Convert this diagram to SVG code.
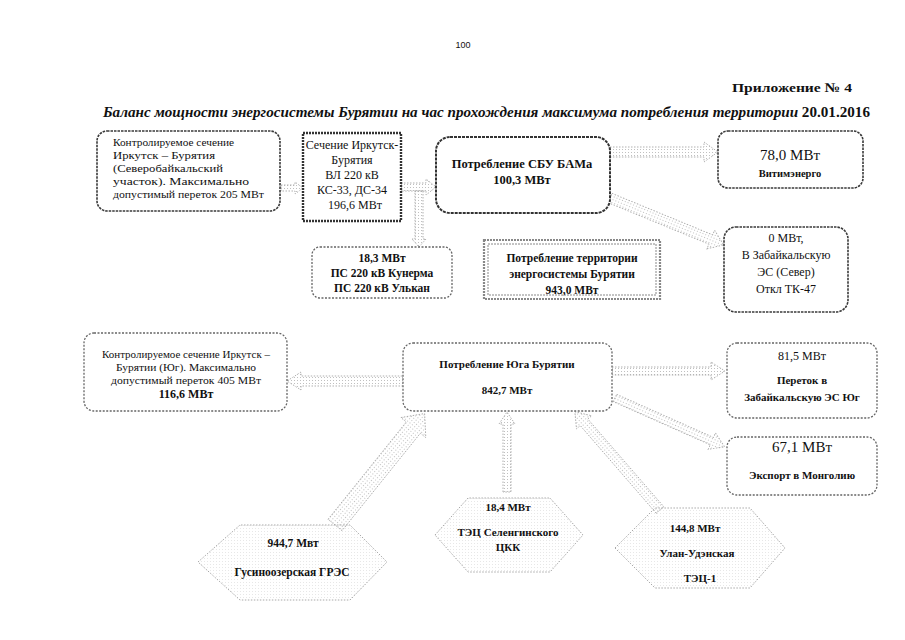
<svg xmlns="http://www.w3.org/2000/svg" width="905" height="640" viewBox="0 0 905 640" font-family="'Liberation Serif','Times New Roman',serif">
<defs>
<pattern id="dots" width="3" height="3" patternUnits="userSpaceOnUse">
<rect x="0" y="0" width="1" height="1" fill="#b0b0b0"/>
</pattern>
<style>
text{font-family:"Liberation Serif","Times New Roman",serif;fill:#111}
.b{font-weight:bold}
.c{text-anchor:middle}
.box{fill:#fff;stroke:#3a3a3a;stroke-width:1.6;stroke-dasharray:2.5 1}
.lbox{fill:#fff;stroke:#666;stroke-width:1.3;stroke-dasharray:2 1.5}
.arr{fill:url(#dots);fill-opacity:0.8;stroke:#a8a8a8;stroke-width:0.9;stroke-dasharray:1.5 1.5}
.hex{fill:url(#dots);fill-opacity:0.3;stroke:#a8a8a8;stroke-width:1;stroke-dasharray:1.5 1.5}
</style>
</defs>
<rect width="905" height="640" fill="#fff"/>

<text x="463" y="48" class="c" style="font-family:'Liberation Sans',Arial,sans-serif;font-size:9px">100</text>
<text x="852" y="92" class="b" style="font-size:13.5px;text-anchor:end" textLength="120" lengthAdjust="spacingAndGlyphs">Приложение № 4</text>
<text x="103" y="117" class="b" style="font-size:15px;font-style:italic" textLength="767" lengthAdjust="spacingAndGlyphs">Баланс мощности энергосистемы Бурятии на час прохождения максимума потребления территории <tspan style="font-style:normal">20.01.2016</tspan></text>

<g id="connectors">
<polygon class="arr" transform="translate(281,188)" points="0,-3 14,-3 14,-6 22,0 14,6 14,3 0,3"/>
<polygon class="arr" transform="translate(401,187)" points="0,-4 25,-4 25,-8 35,0 25,8 25,4 0,4"/>
<polygon class="arr" transform="translate(419,191) rotate(90)" points="0,-4 48,-4 48,-7 56,0 48,7 48,4 0,4"/>
<polygon class="arr" transform="translate(610,152)" points="0,-5 94,-5 94,-10 108,0 94,10 94,5 0,5"/>
<polygon class="arr" transform="translate(610,198) rotate(22.4)" points="0,-5 109,-5 109,-10 123,0 109,10 109,5 0,5"/>
<polygon class="arr" transform="translate(403,381) rotate(180)" points="0,-5 102,-5 102,-9 116,0 102,9 102,5 0,5"/>
<polygon class="arr" transform="translate(612,371)" points="0,-4 99,-4 99,-9 113,0 99,9 99,4 0,4"/>
<polygon class="arr" transform="translate(615,398) rotate(24)" points="0,-4 106,-4 106,-9 120,0 106,9 106,4 0,4"/>
<polygon class="arr" transform="translate(335,525) rotate(-51.2)" points="0,-9 125,-9 125,-16 143,0 125,16 125,9 0,9"/>
<polygon class="arr" transform="translate(507,492) rotate(-90)" points="0,-4 68,-4 68,-8 80,0 68,8 68,4 0,4"/>
<polygon class="arr" transform="translate(660,510) rotate(-130.9)" points="0,-5 116,-5 116,-10 130,0 116,10 116,5 0,5"/>
</g>

<g id="n1">
<rect class="box" x="97" y="131" width="183" height="80" rx="10"/>
<text x="113" y="146" style="font-size:11px" textLength="121" lengthAdjust="spacingAndGlyphs">Контролируемое сечение</text>
<text x="113" y="159" style="font-size:11px" textLength="102" lengthAdjust="spacingAndGlyphs">Иркутск – Бурятия</text>
<text x="113" y="172" style="font-size:11px" textLength="110" lengthAdjust="spacingAndGlyphs">(Северобайкальский</text>
<text x="113" y="185" style="font-size:11px" textLength="136" lengthAdjust="spacingAndGlyphs">участок). Максимально</text>
<text x="113" y="198" style="font-size:11px" textLength="151" lengthAdjust="spacingAndGlyphs">допустимый переток 205 МВт</text>
</g>

<g id="n2">
<rect x="303" y="133" width="98" height="88" fill="#fff" stroke="#333" stroke-width="2.4" stroke-dasharray="2 1"/>
<text x="352" y="149" class="c" style="font-size:12px">Сечение Иркутск-</text>
<text x="352" y="164" class="c" style="font-size:12px">Бурятия</text>
<text x="352" y="179" class="c" style="font-size:12px">ВЛ 220 кВ</text>
<text x="352" y="194" class="c" style="font-size:12px">КС-33, ДС-34</text>
<text x="355" y="209" class="c" style="font-size:12px">196,6 МВт</text>
</g>

<g id="n3">
<rect x="436" y="137" width="174" height="76" rx="14" fill="#fff" stroke="#333" stroke-width="2" stroke-dasharray="3 1"/>
<text x="522" y="168" class="c b" style="font-size:12.5px">Потребление СБУ БАМа</text>
<text x="522" y="184" class="c b" style="font-size:12.5px">100,3 МВт</text>
</g>

<g id="n4">
<rect class="box" x="718" y="131" width="145" height="57" rx="10"/>
<text x="790" y="160" class="c" style="font-size:15px">78,0 МВт</text>
<text x="790" y="177" class="c b" style="font-size:10.5px">Витимэнерго</text>
</g>

<g id="n5">
<rect class="box" x="724" y="227" width="124" height="85" rx="12"/>
<text x="786" y="242" class="c" style="font-size:12px">0 МВт,</text>
<text x="786" y="259" class="c" style="font-size:12px">В Забайкальскую</text>
<text x="786" y="276" class="c" style="font-size:12px">ЭС (Север)</text>
<text x="786" y="293" class="c" style="font-size:12px">Откл ТК-47</text>
</g>

<g id="n6">
<rect class="lbox" x="312" y="247" width="140" height="51" rx="8"/>
<text x="382" y="262" class="c b" style="font-size:11.5px">18,3 МВт</text>
<text x="382" y="277" class="c b" style="font-size:11.5px">ПС 220 кВ Кунерма</text>
<text x="382" y="292" class="c b" style="font-size:11.5px">ПС 220 кВ Улькан</text>
</g>

<g id="n7">
<rect x="484" y="240" width="176" height="59" fill="#fff" stroke="#888" stroke-width="2.2" stroke-dasharray="2 1"/>
<rect x="488" y="244" width="168" height="51" fill="none" stroke="#888" stroke-width="1" stroke-dasharray="2 1"/>
<text x="572" y="262" class="c b" style="font-size:11.5px">Потребление территории</text>
<text x="572" y="278" class="c b" style="font-size:11.5px">энергосистемы Бурятии</text>
<text x="572" y="294" class="c b" style="font-size:11.5px">943,0 МВт</text>
</g>

<g id="n8">
<rect class="lbox" x="84" y="333" width="203" height="78" rx="10"/>
<text x="186" y="358" class="c" style="font-size:10px" textLength="168" lengthAdjust="spacingAndGlyphs">Контролируемое сечение Иркутск –</text>
<text x="186" y="371" class="c" style="font-size:10px" textLength="140" lengthAdjust="spacingAndGlyphs">Бурятии (Юг). Максимально</text>
<text x="186" y="384" class="c" style="font-size:10px" textLength="150" lengthAdjust="spacingAndGlyphs">допустимый переток 405 МВт</text>
<text x="186" y="398" class="c b" style="font-size:12px">116,6 МВт</text>
</g>

<g id="n9">
<rect class="lbox" x="403" y="343" width="209" height="68" rx="10"/>
<text x="507" y="368" class="c b" style="font-size:11px">Потребление Юга Бурятии</text>
<text x="507" y="394" class="c b" style="font-size:11px">842,7 МВт</text>
</g>

<g id="n10">
<rect class="lbox" x="727" y="343" width="150" height="75" rx="10"/>
<text x="802" y="360" class="c" style="font-size:12px">81,5 МВт</text>
<text x="802" y="384" class="c b" style="font-size:11px">Переток в</text>
<text x="802" y="401" class="c b" style="font-size:11px">Забайкальскую ЭС Юг</text>
</g>

<g id="n11">
<rect class="lbox" x="727" y="437" width="150" height="58" rx="10"/>
<text x="802" y="452" class="c" style="font-size:15px">67,1 МВт</text>
<text x="802" y="479" class="c b" style="font-size:11px">Экспорт в Монголию</text>
</g>

<g id="n12">
<polygon class="hex" points="198,562 240,525 350,525 387,562 350,600 240,600"/>
<text x="293" y="547" class="c b" style="font-size:11.5px">944,7 Мвт</text>
<text x="292" y="576" class="c b" style="font-size:11.5px">Гусиноозерская ГРЭС</text>
</g>

<g id="n13">
<polygon class="hex" points="435,535 468,498 550,498 583,535 550,572 468,572"/>
<text x="508" y="511" class="c b" style="font-size:11px">18,4 МВт</text>
<text x="508" y="536" class="c b" style="font-size:11px">ТЭЦ Селенгинского</text>
<text x="508" y="551" class="c b" style="font-size:11px">ЦКК</text>
</g>

<g id="n14">
<polygon class="hex" points="615,548 655,508 750,508 785,548 750,588 655,588"/>
<text x="695" y="532" class="c b" style="font-size:11px">144,8 МВт</text>
<text x="697" y="557" class="c b" style="font-size:11px">Улан-Удэнская</text>
<text x="700" y="582" class="c b" style="font-size:11px">ТЭЦ-1</text>
</g>
</svg>
